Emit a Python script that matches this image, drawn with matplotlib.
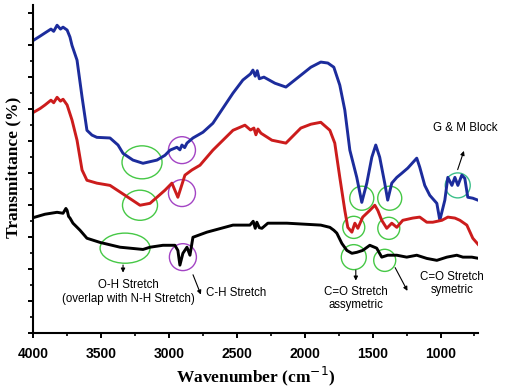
import matplotlib.pyplot as plt
from matplotlib.patches import Ellipse
from matplotlib.ticker import MultipleLocator

# FTIR spectra, values
blue_wn = [3995, 3950, 3914, 3870, 3850, 3825, 3800, 3781, 3751, 3730, 3715, 3678, 3641, 3605, 3568,
           3532, 3435, 3376, 3339, 3266, 3192, 3089, 3030, 2993, 2942, 2920, 2905, 2885, 2868,
           2824, 2750, 2677, 2603, 2529, 2456, 2400, 2382, 2365, 2350, 2335, 2301, 2220, 2139,
           2029, 1955, 1882, 1830, 1786, 1742, 1705, 1668, 1617, 1580, 1543, 1506, 1477, 1448,
           1411, 1389, 1359, 1322, 1285, 1241, 1175, 1153, 1116, 1079, 1027, 1005, 968, 946,
           916, 894, 872, 843, 821, 799, 762, 725]
blue_t = [91.6, 92.8, 93.8, 95.0, 94.3, 96.2, 95.0, 95.6, 94.7, 92.5, 89.9, 85.3, 73.8, 63.4, 61.9,
          61.2, 61.0, 58.8, 56.2, 54.1, 53.1, 54.1, 55.6, 57.2, 58.1, 57.3, 58.8, 58.0, 59.4,
          61.0, 62.8, 65.6, 70.3, 75.0, 79.1, 81.0, 82.2, 80.3, 82.0, 79.5, 80.0, 78.1, 76.9,
          80.6, 83.1, 84.7, 84.4, 83.1, 77.5, 69.7, 57.2, 48.7, 40.9, 46.9, 55.0, 58.8, 55.0,
          46.9, 41.6, 46.9, 48.7, 50.0, 51.6, 54.7, 51.9, 46.2, 43.1, 40.6, 35.3, 41.6, 48.7,
          46.2, 48.7, 46.2, 49.4, 48.4, 42.5, 42.2, 41.6]

red_wn = [3995, 3950, 3914, 3870, 3850, 3825, 3800, 3781, 3751, 3715, 3678, 3641, 3605, 3532,
          3435, 3324, 3214, 3140, 3089, 3030, 2979, 2935, 2883, 2832, 2772, 2677, 2603, 2529,
          2441, 2400, 2375, 2360, 2345, 2323, 2242, 2139, 2029, 1955, 1882, 1815, 1779, 1742,
          1705, 1683, 1653, 1631, 1609, 1573, 1521, 1484, 1462, 1433, 1396, 1359, 1322, 1278,
          1204, 1153, 1101, 1057, 990, 946, 894, 857, 806, 762, 717]
red_t = [69.1, 70.2, 71.3, 72.8, 72.0, 73.7, 72.5, 73.1, 71.3, 66.6, 60.3, 51.0, 47.8, 46.9,
         46.2, 43.1, 40.0, 40.6, 42.5, 44.7, 46.9, 42.5, 49.4, 51.0, 52.5, 57.2, 60.3, 63.4,
         65.0, 63.5, 64.1, 62.0, 63.8, 62.5, 60.3, 59.4, 64.1, 65.3, 65.9, 63.4, 59.4, 48.7,
         38.4, 33.1, 31.6, 34.4, 32.8, 36.3, 38.4, 40.0, 38.4, 35.3, 32.8, 34.4, 33.1, 35.3,
         36.0, 36.3, 34.7, 34.7, 35.3, 36.3, 36.0, 35.3, 33.8, 29.7, 27.5]

black_wn = [3995, 3914, 3825, 3781, 3760, 3751, 3740, 3730, 3708, 3656, 3605, 3509, 3361, 3192,
            3140, 3045, 2957, 2935, 2920, 2898, 2868, 2846, 2824, 2721, 2529, 2404, 2380, 2365,
            2353, 2335, 2316, 2272, 2132, 1882, 1815, 1786, 1764, 1727, 1690, 1653, 1617, 1573,
            1521, 1470, 1433, 1389, 1322, 1249, 1175, 1101, 1027, 953, 880, 835, 769, 717]
black_t = [36.2, 37.2, 37.8, 37.5, 39.0, 38.4, 36.5, 36.0, 34.4, 32.2, 29.7, 28.4, 26.9, 26.2,
           26.9, 27.5, 27.5, 25.9, 21.3, 25.0, 26.9, 24.4, 30.0, 31.6, 33.8, 33.8, 35.0, 32.8,
           34.7, 33.0, 32.8, 34.4, 34.4, 33.8, 33.1, 32.2, 31.3, 28.1, 25.9, 25.0, 25.3, 25.9,
           27.5, 26.6, 23.8, 24.4, 24.4, 23.8, 24.4, 23.4, 22.8, 23.8, 24.4, 23.8, 23.8, 23.4]

green = '#46c846'
purple = '#a344c4'

# ellipses: (wavenumber, transmittance, width, height, colour)
marks = [
    (3199, 53.4, 295, 10.3, green), (2905, 57.2, 199, 8.4, purple),
    (1580, 42.2, 177, 7.5, green), (1374, 42.2, 177, 7.5, green),
    (873, 46.2, 184, 7.8, '#3cbf8a'),
    (3214, 40.0, 258, 9.4, green), (2905, 43.8, 199, 8.4, purple),
    (1639, 33.1, 162, 6.9, green), (1381, 32.8, 162, 6.9, green),
    (3324, 26.6, 368, 9.4, green), (2898, 23.8, 199, 8.4, purple),
    (1639, 23.8, 184, 7.8, green), (1411, 22.8, 162, 6.9, green),
]

fig = plt.figure(figsize=(5.08, 3.89), dpi=100)
ax = fig.add_axes([0.0656, 0.143, 0.875, 0.844])

ax.plot(blue_wn, blue_t, color='#1c2c9c', lw=2.1)
ax.plot(red_wn, red_t, color='#cc1c1c', lw=2.1)
ax.plot(black_wn, black_t, color='black', lw=2.1)

for x, y, w, h, c in marks:
    ax.add_patch(Ellipse((x, y), w, h, fill=False, ec=c, lw=1.0))

arr = dict(arrowstyle='-|>', color='black', lw=0.8, mutation_scale=6)
ax.annotate('', xy=(3339, 18.1), xytext=(3339, 22.2), arrowprops=arr)
ax.annotate('', xy=(2758, 11.3), xytext=(2831, 19.1), arrowprops=arr)
ax.annotate('', xy=(1624, 15.6), xytext=(1624, 20.6), arrowprops=arr)
ax.annotate('', xy=(1234, 12.5), xytext=(1344, 21.3), arrowprops=arr)
ax.annotate('', xy=(821, 57.8), xytext=(880, 50.3), arrowprops=arr)

tf = dict(family='Liberation Sans', fontsize=8.3)
ax.text(3302, 12.8, 'O-H Stretch\n(overlap with N-H Stretch)', ha='center', va='center',
        linespacing=1.2, **tf)
ax.text(2725, 12.5, 'C-H Stretch', ha='left', va='center', **tf)
ax.text(1624, 10.9, 'C=O Stretch\nassymetric', ha='center', va='center', linespacing=1.2, **tf)
ax.text(917, 15.6, 'C=O Stretch\nsymetric', ha='center', va='center', linespacing=1.2, **tf)
ax.text(819, 64.1, 'G & M Block', ha='center', va='center', **tf)

ax.set_xlim(4000, 725)
ax.set_ylim(0, 102.5)
ax.xaxis.set_major_locator(MultipleLocator(500))
ax.xaxis.set_minor_locator(MultipleLocator(250))
ax.yaxis.set_major_locator(MultipleLocator(10))
ax.yaxis.set_minor_locator(MultipleLocator(5))
ax.set_yticklabels([])
ax.tick_params(which='major', length=3.5, width=1.4, direction='out', pad=6)
ax.tick_params(which='minor', length=2.5, width=1.2, direction='out')
for lab in ax.get_xticklabels():
    lab.set_fontfamily('Liberation Sans')
    lab.set_fontweight('bold')
    lab.set_fontsize(10)
for s in ['top', 'right']:
    ax.spines[s].set_visible(False)
for s in ['left', 'bottom']:
    ax.spines[s].set_linewidth(1.5)

ax.set_xlabel('Wavenumber (cm$^{-1}$)', family='Liberation Serif', fontweight='bold',
              fontsize=12.5, labelpad=3)
fig.text(13 / 508, 1 - 167 / 389, 'Transmittance (%)', family='Liberation Serif',
         fontweight='bold', fontsize=12.5, rotation=90, ha='center', va='center')

fig.savefig('out.png', dpi=100)
